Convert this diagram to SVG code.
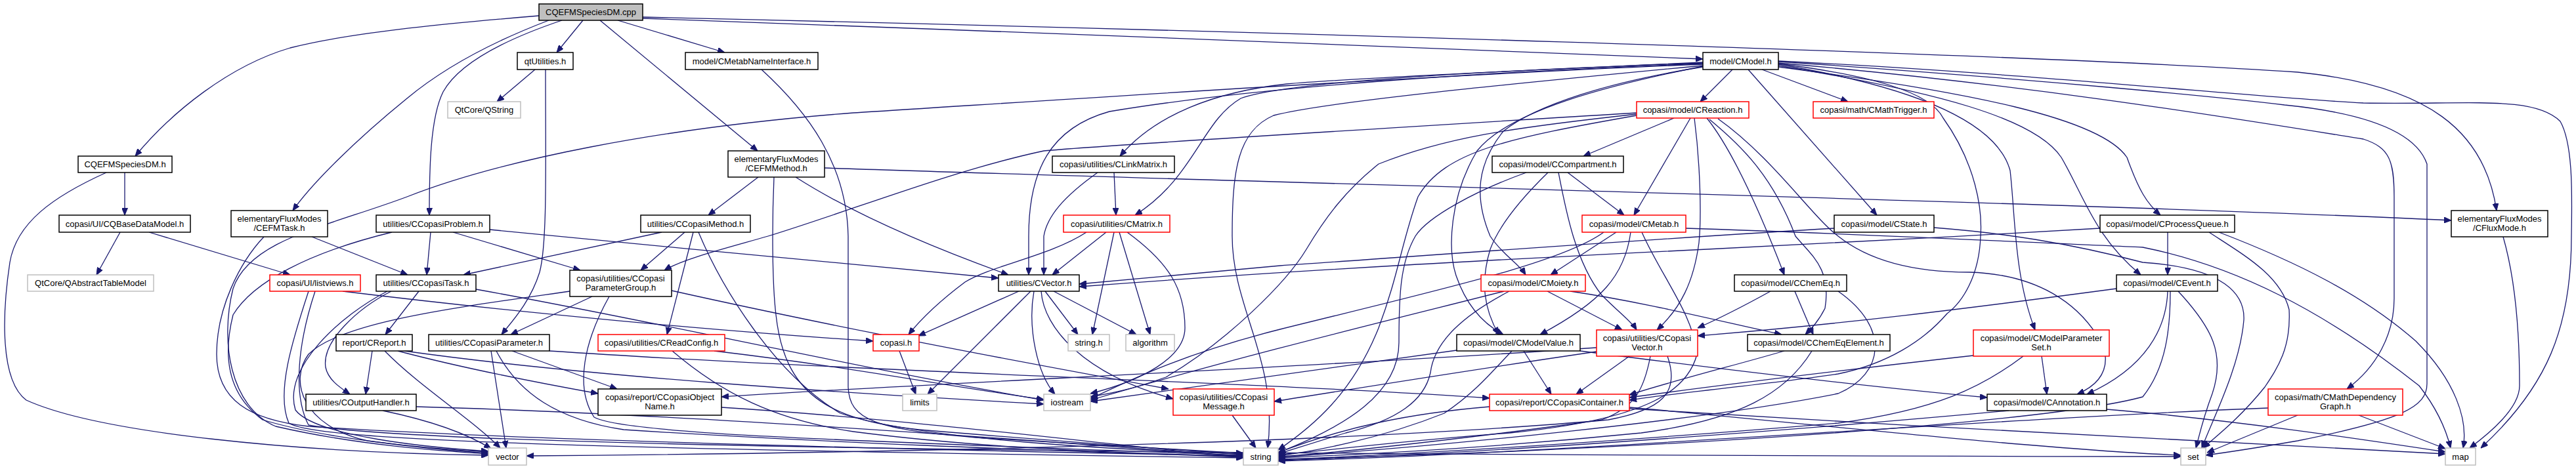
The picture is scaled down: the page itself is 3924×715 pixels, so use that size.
<svg xmlns="http://www.w3.org/2000/svg" width="3924" height="715" viewBox="0 0 3924 715">
<style>
.nd rect{fill:#fff;stroke:#000;stroke-width:1.5}
.nd.r rect{stroke:#f00}
.nd.g rect{stroke:#bfbfbf}
.nd.root rect{fill:#bfbfbf}
.nd text{font-family:"Liberation Sans",Arial,sans-serif;font-size:13px;text-anchor:middle;fill:#000}
#edges path{fill:none;stroke:#191970;stroke-width:1.3;marker-end:url(#ah)}
</style>
<defs>
<marker id="ah" markerUnits="userSpaceOnUse" markerWidth="11" markerHeight="9" refX="11" refY="4.5" orient="auto">
<path d="M0,0 L11,4.5 L0,9 z" fill="#191970" stroke="#191970" stroke-width="1"/>
</marker>
</defs>
<rect width="3924" height="715" fill="#fff"/>
<g id="edges">
<path d="M821,24 C700,34 540,48 442,73 C350,100 262,170 206,238"/>
<path d="M836,31 C760,60 680,100 620,150 C540,215 475,280 446,321"/>
<path d="M856,31 C770,60 700,95 675,140 C655,180 654,260 654,328"/>
<path d="M888,31 L848,80"/>
<path d="M914,31 L1154,230"/>
<path d="M941,31 L1104,80"/>
<path d="M979,28 C1500,45 2100,72 2594,90"/>
<path d="M979,26 C1800,45 3050,80 3500,110 C3700,130 3785,200 3803,321"/>
<path d="M815,106 L757,155"/>
<path d="M831,106 C831,250 834,370 822,415 C808,460 780,490 764,510"/>
<path d="M1160,106 C1230,170 1290,250 1292,360 L1292,590 C1294,640 1330,655 1500,668 C1700,680 1830,688 1894,691"/>
<path d="M1155,270 L1079,328"/>
<path d="M1256,256 C1800,275 3200,310 3734,336"/>
<path d="M1179,270 C1176,340 1176,430 1182,480 C1195,600 1260,640 1400,655 C1600,672 1800,686 1894,693"/>
<path d="M1212,270 C1290,320 1400,370 1536,419"/>
<path d="M190,263 L190,328"/>
<path d="M162,263 C80,300 25,340 15,400 C3,480 0,580 40,610 C150,660 450,690 744,694"/>
<path d="M183,354 L147,419"/>
<path d="M227,354 L442,419"/>
<path d="M475,361 L621,419"/>
<path d="M402,361 C365,400 330,470 330,540 C330,610 380,640 470,650 C800,672 1500,688 1894,695"/>
<path d="M656,354 L650,419"/>
<path d="M690,354 L884,412"/>
<path d="M746,350 C1000,375 1300,403 1521,424"/>
<path d="M597,354 C470,385 385,430 355,480 C340,540 345,600 400,640 C500,670 650,684 744,689"/>
<path d="M1008,354 L706,419"/>
<path d="M1043,354 L976,412"/>
<path d="M1056,354 L1016,510"/>
<path d="M1064,354 C1100,440 1180,570 1280,630 C1400,670 1700,686 1894,692"/>
<path d="M522,444 C800,478 1100,505 1330,520"/>
<path d="M470,444 C445,520 420,600 440,645 C480,672 900,684 1894,698"/>
<path d="M480,444 C455,520 445,600 470,648 C700,690 2500,695 3322,696"/>
<path d="M638,444 L587,510"/>
<path d="M596,444 C545,470 490,520 496,560 C500,580 520,592 533,601"/>
<path d="M725,441 C1000,490 1300,560 1590,610"/>
<path d="M590,444 C520,480 430,560 450,625 C480,665 650,682 744,688"/>
<path d="M902,452 L778,510"/>
<path d="M1023,443 C1300,505 1600,560 1780,593"/>
<path d="M928,452 C890,520 875,590 905,636 C950,662 1300,672 1894,694"/>
<path d="M868,444 C700,468 520,490 470,540 C440,580 460,650 560,672 C640,683 700,688 744,691"/>
<path d="M780,535 L940,593"/>
<path d="M748,535 L771,683"/>
<path d="M756,535 C790,600 850,640 950,655 C1300,678 1700,690 1894,697"/>
<path d="M837,535 C1300,566 1960,585 2269,607"/>
<path d="M1024,535 C1100,600 1180,640 1300,658 C1500,684 1700,690 1894,696"/>
<path d="M1088,535 C1300,560 1450,590 1590,609"/>
<path d="M567,535 L557,601"/>
<path d="M606,535 C700,560 800,580 911,600"/>
<path d="M586,535 C640,590 720,640 762,683"/>
<path d="M616,535 C900,575 1300,600 1590,616"/>
<path d="M583,626 C650,640 710,660 748,684"/>
<path d="M634,620 C1000,630 1500,665 1894,696"/>
<path d="M2639,106 L2590,155"/>
<path d="M2684,106 L2815,155"/>
<path d="M2663,106 L2859,328"/>
<path d="M2594,95 C2300,108 2050,120 1960,128 C1850,140 1760,175 1706,238"/>
<path d="M2594,96 C2200,110 1950,128 1890,150 C1830,185 1820,270 1729,328"/>
<path d="M2594,97 C2200,112 1900,135 1690,170 C1600,195 1567,260 1567,360 L1567,419"/>
<path d="M2594,98 C2100,118 1500,160 1300,172 C1000,195 760,245 620,300 C500,345 380,365 355,440 C335,520 350,620 420,650 C550,680 680,688 744,692"/>
<path d="M2594,100 C2300,128 2020,155 1940,176 C1885,200 1877,260 1877,360 C1877,470 1948,550 1931,683"/>
<path d="M2594,101 C2450,130 2300,168 2250,230 C2208,300 2205,380 2218,420 C2235,470 2262,495 2290,510"/>
<path d="M2594,102 C2450,125 2340,160 2290,200 C2250,250 2245,300 2270,360 C2290,390 2312,400 2324,419"/>
<path d="M2709,98 C2900,130 3040,180 3062,260 C3070,330 3068,420 3100,503"/>
<path d="M2709,100 C2950,140 3100,180 3140,240 C3175,300 3190,360 3261,419"/>
<path d="M2709,102 C3000,140 3200,180 3240,240 C3258,290 3270,310 3291,328"/>
<path d="M2709,93 C3100,112 3450,150 3600,157 C3760,160 3860,145 3900,185 C3920,220 3918,300 3917,360 C3917,500 3880,590 3779,683"/>
<path d="M2709,94 C3100,120 3400,150 3480,160 C3600,172 3680,200 3697,250 L3697,585 C3697,620 3660,640 3500,672 C3430,684 3390,690 3360,694"/>
<path d="M2709,96 C3100,130 3400,180 3600,212 C3640,225 3647,245 3647,300 L3647,455 C3647,510 3620,560 3575,593"/>
<path d="M2709,97 C2850,115 2940,140 2960,180 C3010,250 3020,320 3017,360 C3015,420 2990,460 2966,478 C2930,520 2874,555 2800,570 C2700,585 2560,598 2482,610"/>
<path d="M2550,180 L2412,238"/>
<path d="M2575,180 L2489,328"/>
<path d="M2581,180 C2590,250 2592,330 2588,370 C2580,430 2560,470 2524,503"/>
<path d="M2600,180 C2640,230 2680,320 2718,419"/>
<path d="M2604,182 C2650,220 2700,267 2735,360 C2760,390 2790,410 2780,470 C2770,490 2760,500 2750,510"/>
<path d="M2617,181 C2700,240 2760,330 2800,360 C2850,400 2920,415 3000,415 C3100,418 3170,460 3205,530 C3215,570 3190,590 3164,601"/>
<path d="M2493,172 C2200,190 1700,220 1590,230 C1450,260 1300,320 1170,360 C1100,380 1040,395 1012,412"/>
<path d="M2493,174 C2300,195 2200,210 2100,250 C2050,290 2020,330 1990,380 C1960,430 1870,520 1776,575 C1720,595 1690,600 1661,605"/>
<path d="M2493,176 C2300,210 2200,230 2160,300 C2135,370 2130,420 2100,500 C2060,600 2000,650 1947,686"/>
<path d="M2388,263 L2474,328"/>
<path d="M2358,263 C2320,300 2285,340 2270,380 C2255,430 2260,470 2283,510"/>
<path d="M2374,263 C2385,320 2400,400 2440,450 C2470,480 2485,490 2493,503"/>
<path d="M2325,263 C2250,290 2175,330 2156,360 C2133,400 2131,450 2131,522 C2131,600 2050,650 1947,690"/>
<path d="M2462,354 L2362,419"/>
<path d="M2484,354 C2475,420 2440,460 2346,510"/>
<path d="M2443,354 C2380,400 2200,440 1950,502 C1800,540 1720,580 1661,608"/>
<path d="M2501,354 C2530,420 2580,480 2585,540 C2570,600 2500,640 2300,660 C2100,675 2000,690 1947,693"/>
<path d="M2568,348 C2800,355 3100,370 3264,377 C3403,405 3538,472 3685,588 C3710,620 3725,650 3733,683"/>
<path d="M2794,348 C2500,365 2100,395 1950,405 C1800,418 1700,428 1644,433"/>
<path d="M2946,347 C3050,355 3150,370 3264,400 C3390,408 3420,450 3418,488 C3412,560 3370,640 3354,683"/>
<path d="M3199,348 C3000,360 2700,375 2600,380 C2300,395 2000,410 1644,437"/>
<path d="M3302,354 L3302,419"/>
<path d="M3365,354 C3420,390 3474,420 3487,472 C3490,530 3470,560 3450,590 C3410,640 3370,670 3356,683"/>
<path d="M3380,354 C3500,400 3600,450 3680,520 C3740,580 3760,640 3752,683"/>
<path d="M3813,361 C3830,420 3838,500 3838,588 C3838,610 3820,640 3762,683"/>
<path d="M1697,263 L1700,328"/>
<path d="M1672,263 C1620,300 1595,330 1590,360 L1590,419"/>
<path d="M1655,354 C1600,390 1510,405 1470,430 C1430,460 1400,490 1384,510"/>
<path d="M1685,354 L1603,419"/>
<path d="M1697,354 L1664,510"/>
<path d="M1705,354 L1752,510"/>
<path d="M1717,354 C1780,400 1805,440 1805,500 C1805,545 1740,580 1661,600"/>
<path d="M1552,444 L1399,512"/>
<path d="M1570,444 L1413,601"/>
<path d="M1592,444 L1642,510"/>
<path d="M1605,444 L1731,510"/>
<path d="M1575,444 C1565,500 1580,570 1607,601"/>
<path d="M1586,444 C1590,500 1650,570 1787,608"/>
<path d="M1370,535 L1395,601"/>
<path d="M2291,444 C2150,480 1900,540 1661,610"/>
<path d="M2357,444 L2471,503"/>
<path d="M2392,444 C2500,460 2600,485 2714,510"/>
<path d="M2299,444 C2230,480 2185,520 2179,568 C2170,610 2130,640 2050,660 C2000,675 1970,685 1947,692"/>
<path d="M2321,535 L2363,601"/>
<path d="M2407,535 C2600,560 2850,590 3027,606"/>
<path d="M2303,535 C2270,570 2245,600 2200,630 C2100,670 2000,688 1947,695"/>
<path d="M2219,534 C2100,550 1900,580 1661,612"/>
<path d="M2482,543 L2401,601"/>
<path d="M2432,536 C2200,570 2050,595 1941,612"/>
<path d="M2432,530 C2000,560 1400,585 1099,605"/>
<path d="M2514,543 C2505,590 2493,620 2440,640 C2300,660 2050,690 1947,696"/>
<path d="M2540,543 C2560,600 2530,625 2450,640 C2000,680 1200,692 802,695"/>
<path d="M2734,444 L2762,510"/>
<path d="M2697,444 C2650,470 2620,485 2586,500"/>
<path d="M2800,444 C2880,500 2870,570 2800,600 C2600,640 2200,680 1947,697"/>
<path d="M2718,535 C2650,555 2550,580 2482,602"/>
<path d="M2760,535 C2720,600 2650,640 2500,660 C2300,680 2100,692 1947,698"/>
<path d="M3224,440 C3000,470 2800,495 2586,512"/>
<path d="M3302,444 C3300,500 3270,560 3179,601"/>
<path d="M3318,444 C3370,500 3390,540 3370,600 C3355,640 3350,665 3345,683"/>
<path d="M3306,444 C3306,500 3300,560 3264,605 C3100,650 2400,690 1947,700"/>
<path d="M3110,543 L3118,601"/>
<path d="M3006,542 C2800,565 2600,590 2482,606"/>
<path d="M3082,543 C3020,590 2950,625 2800,645 C2500,670 2200,690 1947,701"/>
<path d="M3060,626 C2800,650 2300,690 1947,702"/>
<path d="M3209,624 C3400,640 3600,670 3725,689"/>
<path d="M2269,620 C2150,630 2050,650 1947,690"/>
<path d="M2482,621 C2700,640 3100,685 3322,694"/>
<path d="M2482,623 C2900,650 3400,675 3725,692"/>
<path d="M3500,633 L3362,690"/>
<path d="M3593,633 L3725,684"/>
<path d="M3455,622 C3000,640 2400,690 1947,703"/>
<path d="M1877,633 L1913,683"/>
<path d="M1099,621 C1400,640 1700,680 1894,697"/>
</g>
<g id="n0" class="nd root"><rect x="821" y="6" width="158" height="25"/><text x="900" y="23">CQEFMSpeciesDM.cpp</text></g>
<g id="n1" class="nd"><rect x="788" y="80" width="85" height="26"/><text x="830.5" y="97.5">qtUtilities.h</text></g>
<g id="n2" class="nd g"><rect x="682" y="155" width="111" height="25"/><text x="737.5" y="172">QtCore/QString</text></g>
<g id="n3" class="nd"><rect x="1044" y="80" width="202" height="26"/><text x="1145" y="97.5">model/CMetabNameInterface.h</text></g>
<g id="n4" class="nd"><rect x="1109" y="230" width="147" height="40"/><text x="1182.5" y="247">elementaryFluxModes</text><text x="1182.5" y="261">/CEFMMethod.h</text></g>
<g id="n5" class="nd"><rect x="976" y="328" width="167" height="26"/><text x="1059.5" y="345.5">utilities/CCopasiMethod.h</text></g>
<g id="n6" class="nd"><rect x="573" y="328" width="173" height="26"/><text x="659.5" y="345.5">utilities/CCopasiProblem.h</text></g>
<g id="n7" class="nd"><rect x="119" y="238" width="143" height="25"/><text x="190.5" y="255">CQEFMSpeciesDM.h</text></g>
<g id="n8" class="nd"><rect x="90" y="328" width="200" height="26"/><text x="190" y="345.5">copasi/UI/CQBaseDataModel.h</text></g>
<g id="n9" class="nd"><rect x="352" y="321" width="147" height="40"/><text x="425.5" y="338">elementaryFluxModes</text><text x="425.5" y="352">/CEFMTask.h</text></g>
<g id="n10" class="nd"><rect x="1603" y="238" width="186" height="25"/><text x="1696" y="255">copasi/utilities/CLinkMatrix.h</text></g>
<g id="n11" class="nd r"><rect x="1620" y="328" width="162" height="26"/><text x="1701" y="345.5">copasi/utilities/CMatrix.h</text></g>
<g id="n12" class="nd"><rect x="2594" y="80" width="115" height="26"/><text x="2651.5" y="97.5">model/CModel.h</text></g>
<g id="n13" class="nd r"><rect x="2493" y="155" width="171" height="25"/><text x="2578.5" y="172">copasi/model/CReaction.h</text></g>
<g id="n14" class="nd"><rect x="2273" y="238" width="200" height="25"/><text x="2373" y="255">copasi/model/CCompartment.h</text></g>
<g id="n15" class="nd r"><rect x="2410" y="328" width="158" height="26"/><text x="2489" y="345.5">copasi/model/CMetab.h</text></g>
<g id="n16" class="nd r"><rect x="2762" y="155" width="184" height="25"/><text x="2854" y="172">copasi/math/CMathTrigger.h</text></g>
<g id="n17" class="nd"><rect x="2794" y="328" width="152" height="26"/><text x="2870" y="345.5">copasi/model/CState.h</text></g>
<g id="n18" class="nd"><rect x="3199" y="328" width="205" height="26"/><text x="3301.5" y="345.5">copasi/model/CProcessQueue.h</text></g>
<g id="n19" class="nd"><rect x="3734" y="321" width="147" height="40"/><text x="3807.5" y="338">elementaryFluxModes</text><text x="3807.5" y="352">/CFluxMode.h</text></g>
<g id="n20" class="nd g"><rect x="42" y="419" width="192" height="25"/><text x="138" y="436">QtCore/QAbstractTableModel</text></g>
<g id="n21" class="nd r"><rect x="411" y="419" width="138" height="25"/><text x="480" y="436">copasi/UI/listviews.h</text></g>
<g id="n22" class="nd"><rect x="573" y="419" width="152" height="25"/><text x="649" y="436">utilities/CCopasiTask.h</text></g>
<g id="n23" class="nd"><rect x="868" y="412" width="155" height="40"/><text x="945.5" y="429">copasi/utilities/CCopasi</text><text x="945.5" y="443">ParameterGroup.h</text></g>
<g id="n24" class="nd"><rect x="1521" y="419" width="123" height="25"/><text x="1582.5" y="436">utilities/CVector.h</text></g>
<g id="n25" class="nd r"><rect x="2256" y="419" width="159" height="25"/><text x="2335.5" y="436">copasi/model/CMoiety.h</text></g>
<g id="n26" class="nd"><rect x="2642" y="419" width="171" height="25"/><text x="2727.5" y="436">copasi/model/CChemEq.h</text></g>
<g id="n27" class="nd"><rect x="3224" y="419" width="154" height="25"/><text x="3301" y="436">copasi/model/CEvent.h</text></g>
<g id="n28" class="nd"><rect x="512" y="510" width="116" height="25"/><text x="570" y="527">report/CReport.h</text></g>
<g id="n29" class="nd"><rect x="653" y="510" width="184" height="25"/><text x="745" y="527">utilities/CCopasiParameter.h</text></g>
<g id="n30" class="nd r"><rect x="911" y="510" width="193" height="25"/><text x="1007.5" y="527">copasi/utilities/CReadConfig.h</text></g>
<g id="n31" class="nd r"><rect x="1330" y="510" width="70" height="25"/><text x="1365" y="527">copasi.h</text></g>
<g id="n32" class="nd g"><rect x="1627" y="510" width="63" height="25"/><text x="1658.5" y="527">string.h</text></g>
<g id="n33" class="nd g"><rect x="1715" y="510" width="74" height="25"/><text x="1752" y="527">algorithm</text></g>
<g id="n34" class="nd"><rect x="2219" y="510" width="188" height="25"/><text x="2313" y="527">copasi/model/CModelValue.h</text></g>
<g id="n35" class="nd r"><rect x="2432" y="503" width="154" height="40"/><text x="2509" y="520">copasi/utilities/CCopasi</text><text x="2509" y="534">Vector.h</text></g>
<g id="n36" class="nd"><rect x="2662" y="510" width="217" height="25"/><text x="2770.5" y="527">copasi/model/CChemEqElement.h</text></g>
<g id="n37" class="nd r"><rect x="3006" y="503" width="207" height="40"/><text x="3109.5" y="520">copasi/model/CModelParameter</text><text x="3109.5" y="534">Set.h</text></g>
<g id="n38" class="nd"><rect x="466" y="601" width="168" height="25"/><text x="550" y="618">utilities/COutputHandler.h</text></g>
<g id="n39" class="nd"><rect x="911" y="593" width="188" height="40"/><text x="1005" y="610">copasi/report/CCopasiObject</text><text x="1005" y="624">Name.h</text></g>
<g id="n40" class="nd g"><rect x="1375" y="601" width="52" height="25"/><text x="1401" y="618">limits</text></g>
<g id="n41" class="nd g"><rect x="1590" y="601" width="71" height="25"/><text x="1625.5" y="618">iostream</text></g>
<g id="n42" class="nd r"><rect x="1787" y="593" width="154" height="40"/><text x="1864" y="610">copasi/utilities/CCopasi</text><text x="1864" y="624">Message.h</text></g>
<g id="n43" class="nd r"><rect x="2269" y="601" width="213" height="25"/><text x="2375.5" y="618">copasi/report/CCopasiContainer.h</text></g>
<g id="n44" class="nd"><rect x="3027" y="601" width="182" height="25"/><text x="3118" y="618">copasi/model/CAnnotation.h</text></g>
<g id="n45" class="nd r"><rect x="3455" y="593" width="205" height="40"/><text x="3557.5" y="610">copasi/math/CMathDependency</text><text x="3557.5" y="624">Graph.h</text></g>
<g id="n46" class="nd g"><rect x="744" y="683" width="58" height="26"/><text x="773" y="700.5">vector</text></g>
<g id="n47" class="nd g"><rect x="1894" y="683" width="53" height="26"/><text x="1920.5" y="700.5">string</text></g>
<g id="n48" class="nd g"><rect x="3322" y="683" width="38" height="26"/><text x="3341" y="700.5">set</text></g>
<g id="n49" class="nd g"><rect x="3725" y="683" width="46" height="26"/><text x="3748" y="700.5">map</text></g>
</svg>
